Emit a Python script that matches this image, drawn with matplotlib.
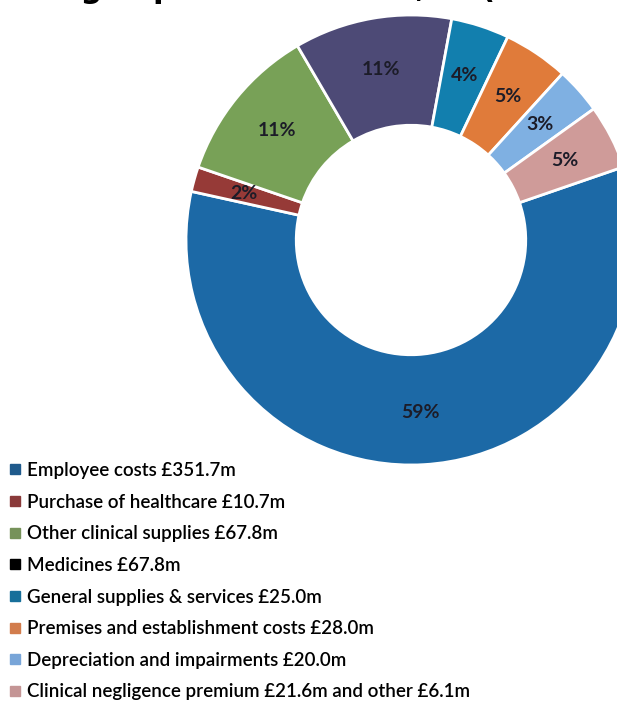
import matplotlib.pyplot as plt
from matplotlib.lines import Line2D

# operating expenditure by category, £m
categories = [
    "Employee costs",
    "Purchase of healthcare",
    "Other clinical supplies",
    "Medicines",
    "General supplies & services",
    "Premises and establishment costs",
    "Depreciation and impairments",
    "Clinical negligence premium",
]
values = [351.7, 10.7, 67.8, 67.8, 25.0, 28.0, 20.0, 27.7]
legend_labels = [
    "Employee costs £351.7m",
    "Purchase of healthcare £10.7m",
    "Other clinical supplies £67.8m",
    "Medicines £67.8m",
    "General supplies & services £25.0m",
    "Premises and establishment costs £28.0m",
    "Depreciation and impairments £20.0m",
    "Clinical negligence premium £21.6m and other £6.1m",
]

wedge_colors = ["#1c69a6", "#963a37", "#78a157", "#4d4a76",
                "#127fae", "#e07b3a", "#7fb0e2", "#cf9b99"]
marker_colors = ["#1f5a8c", "#8a3a3a", "#76925a", "#000000",
                 "#176f9a", "#d27c4c", "#78a5d8", "#c49595"]

W, H = 617, 707
fig = plt.figure(figsize=(W / 100, H / 100), dpi=100)

# donut: centre (411, 240) px, outer radius 225 px
cx, cy, r = 411, 240, 225
ax = fig.add_axes([(cx - r) / W, (H - cy - r) / H, 2 * r / W, 2 * r / H])
wedges, texts, autotexts = ax.pie(
    values, colors=wedge_colors, startangle=19, counterclock=False,
    radius=1, autopct="%.0f%%", pctdistance=0.77,
    wedgeprops=dict(width=0.49, edgecolor="white", linewidth=2),
    textprops=dict(fontsize=14, fontweight="bold", color="#1c1c28",
                   family="Lato"),
)
ax.set_xlim(-1, 1)
ax.set_ylim(-1, 1)
ax.axis("off")

# title sits above the top edge, only its lowest strokes show
fig.text(-70 / W, 1 + 2 / H, "Operating expenditure 2019/20 (£598.7m)",
         fontsize=22, fontweight="bold", family="DejaVu Sans",
         va="baseline", ha="left")

handles = [Line2D([], [], marker="s", linestyle="", markersize=7.5,
                  color=c) for c in marker_colors]
fig.legend(handles, legend_labels, loc="upper left",
           bbox_to_anchor=(8 / W, 1 - 462 / H), frameon=False,
           prop=dict(family="Lato", size=13.5, weight="semibold"),
           labelcolor="black", handlelength=0.7, handletextpad=0.3,
           labelspacing=0.78, borderpad=0, borderaxespad=0)

fig.savefig("out.png", dpi=100)
